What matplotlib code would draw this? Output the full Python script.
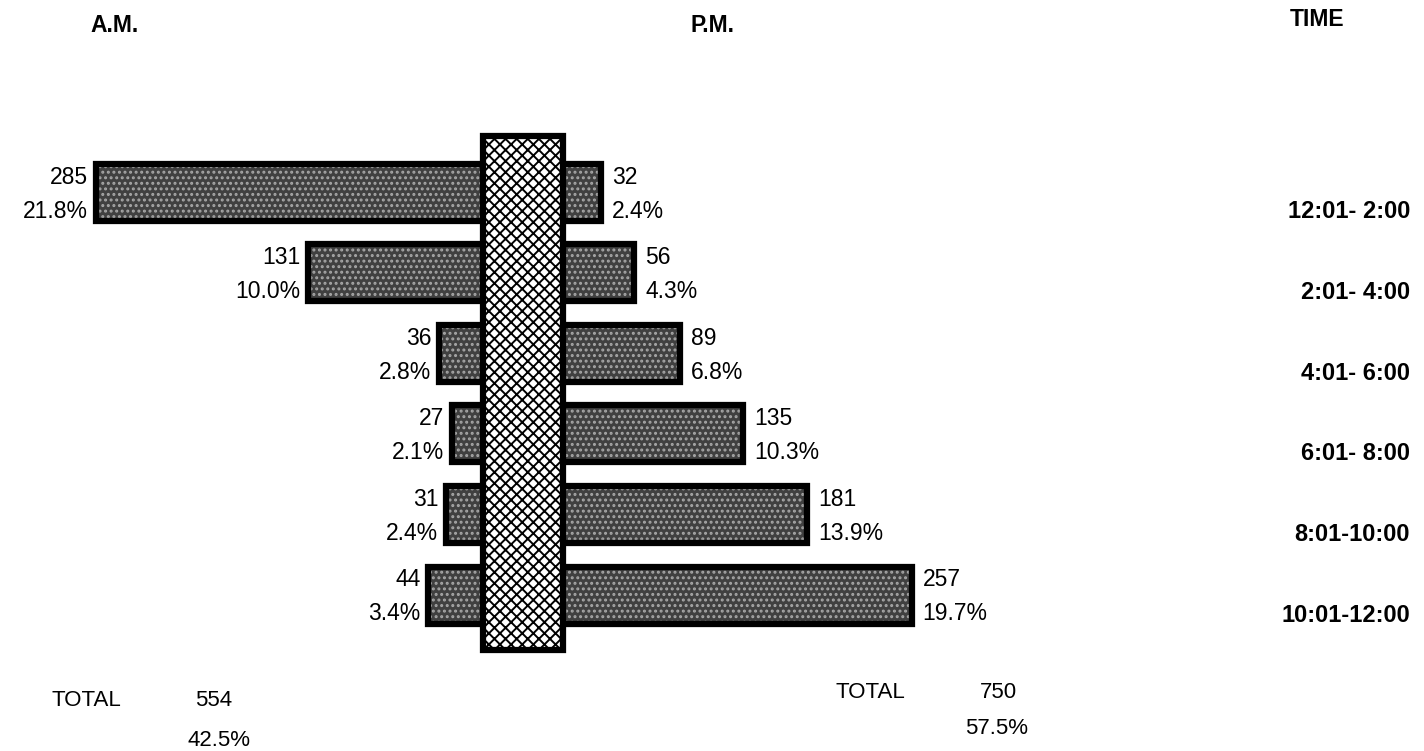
import numpy as np
import matplotlib
matplotlib.use("Agg")
import matplotlib.pyplot as plt
from matplotlib import transforms

plt.rcParams['font.family'] = ['Liberation Sans', 'DejaVu Sans']
plt.rcParams['hatch.linewidth'] = 1.4

time_labels = ["12:01- 2:00", "2:01- 4:00", "4:01- 6:00",
               "6:01- 8:00", "8:01-10:00", "10:01-12:00"]
am_counts = [285, 131, 36, 27, 31, 44]
am_pct = [21.8, 10.0, 2.8, 2.1, 2.4, 3.4]
pm_counts = [32, 56, 89, 135, 181, 257]
pm_pct = [2.4, 4.3, 6.8, 10.3, 13.9, 19.7]
am_total, am_total_pct = sum(am_counts), 42.5
pm_total, pm_total_pct = sum(pm_counts), 57.5

W, H = 1424, 751
PX = 1.38            # pixels per count
CENTER = 523         # column centre, pixels
COL_HALF = 40 / PX   # half width of the middle column, counts
BASE = 34 / PX       # bars start a little behind the column
row_y = 192 + 80.6 * np.arange(len(time_labels))
bar_h = 57

fig = plt.figure(figsize=(W / 100, H / 100), dpi=100)
ax = fig.add_axes([0, 0, 1, 1])
ax.set_xlim(-CENTER / PX, (W - CENTER) / PX)
ax.set_ylim(H, 0)
ax.axis('off')

def draw_bars(lefts, widths):
    # dark stippled body, then a heavy black outline
    ax.barh(row_y, widths, left=lefts, height=bar_h, color='#404040',
            edgecolor='#a6a6a6', hatch='...', linewidth=0, zorder=1)
    ax.barh(row_y, widths, left=lefts, height=bar_h, fill=False,
            edgecolor='black', linewidth=4.5, zorder=2)

am = np.array(am_counts)
pm = np.array(pm_counts)
draw_bars(-BASE - am, am)
draw_bars(BASE, pm)

# cross-hatched middle column
ax.bar(0, 514, bottom=136, width=2 * COL_HALF, color='white',
       edgecolor='black', hatch='xxx', linewidth=0, zorder=3)
ax.bar(0, 514, bottom=136, width=2 * COL_HALF, fill=False,
       edgecolor='black', linewidth=4.5, zorder=4)

fs = 16.5
for y, c, p in zip(row_y, am_counts, am_pct):
    x = -BASE - c - 8 / PX
    ax.text(x, y - 15, f"{c}", ha='right', va='center', fontsize=fs)
    ax.text(x, y + 19, f"{p:.1f}%", ha='right', va='center', fontsize=fs)
for y, c, p in zip(row_y, pm_counts, pm_pct):
    x = BASE + c + 11 / PX
    ax.text(x, y - 15, f"{c}", ha='left', va='center', fontsize=fs)
    ax.text(x, y + 19, f"{p:.1f}%", ha='left', va='center', fontsize=fs)

# time column on the right
tr = transforms.blended_transform_factory(fig.transFigure, ax.transData)
for y, lab in zip(row_y, time_labels):
    ax.text(1410 / W, y + 20, lab, transform=tr, ha='right', va='center',
            fontsize=17, fontweight='bold')

def fy(py):
    return 1 - py / H

hfs = 16.5
fig.text(90 / W, fy(25), "A.M.", ha='left', va='center', fontsize=hfs, fontweight='bold')
fig.text(690 / W, fy(26), "P.M.", ha='left', va='center', fontsize=hfs, fontweight='bold')
fig.text(1290 / W, fy(19), "TIME", ha='left', va='center', fontsize=hfs, fontweight='bold')

# totals
tfs = 16
fig.text(52 / W, fy(700), "TOTAL", ha='left', va='center', fontsize=tfs)
fig.text(195 / W, fy(700), f"{am_total}", ha='left', va='center', fontsize=tfs)
fig.text(187 / W, fy(741), f"{am_total_pct:.1f}%", ha='left', va='center', fontsize=tfs)
fig.text(835 / W, fy(692), "TOTAL", ha='left', va='center', fontsize=tfs)
fig.text(980 / W, fy(692), f"{pm_total}", ha='left', va='center', fontsize=tfs)
fig.text(965 / W, fy(729), f"{pm_total_pct:.1f}%", ha='left', va='center', fontsize=tfs)

fig.savefig("out.png", dpi=100)
